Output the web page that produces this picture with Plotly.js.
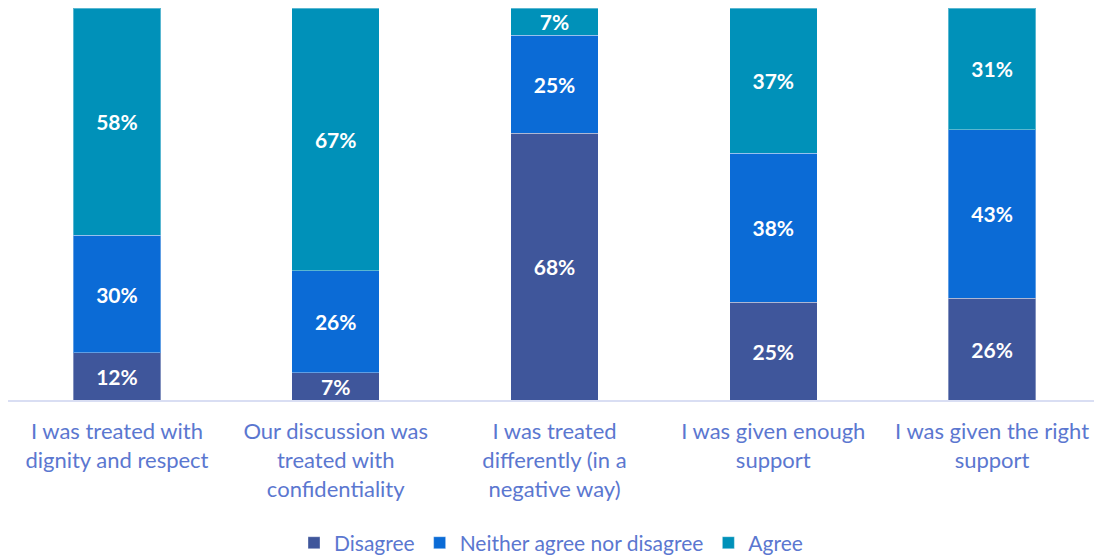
<!DOCTYPE html>
<html>
<head>
<meta charset="utf-8">
<script src="https://cdn.plot.ly/plotly-3.0.1.min.js"></script>
<style>html,body{margin:0;padding:0;background:#fff;}#chart{width:1094px;height:558px;}</style>
</head>
<body>
<div id="chart"></div>
<script>
const categories = [
  "I was treated with<br>dignity and respect",
  "Our discussion was<br>treated with<br>confidentiality",
  "I was treated<br>differently (in a<br>negative way)",
  "I was given enough<br>support",
  "I was given the right<br>support"
];
const disagree = [12, 7, 68, 25, 26];
const neither = [30, 26, 25, 38, 43];
const agree = [58, 67, 7, 37, 31];
const seriesNames = ["Disagree", "Neither agree nor disagree", "Agree"];
const colors = ["#3F569B", "#0B6BD6", "#0091B9"];

const FONT = "Lato, 'Open Sans', sans-serif";
const TEXTC = "#5B77D0";
const series = [disagree, neither, agree];
const x = categories.map((_, i) => i);
const traces = series.map((vals, k) => ({
  type: "bar",
  name: seriesNames[k],
  x: x,
  y: vals,
  marker: {color: colors[k], line: {color: "rgba(255,255,255,0.35)", width: 1}},
  texttemplate: "%{y}%",
  textposition: "inside",
  insidetextanchor: "middle",
  constraintext: "none",
  textfont: {family: FONT, size: 21, color: "#ffffff", weight: "bold"},
  hoverinfo: "none"
}));

const layout = {
  width: 1094, height: 558,
  margin: {l: 8, r: 0, t: 8, b: 158, autoexpand: false},
  barmode: "stack",
  bargap: 0.6,
  paper_bgcolor: "#fff",
  plot_bgcolor: "#fff",
  showlegend: true,
  legend: {orientation: "h", x: 0.5, xanchor: "center", y: -0.365, yanchor: "middle",
           font: {family: FONT, size: 21, color: TEXTC}, itemwidth: 30, traceorder: "normal"},
  xaxis: {
    tickmode: "array", tickvals: x, ticktext: categories,
    range: [-0.498, 4.466],
    showline: true, linecolor: "#D9DEF3", linewidth: 2,
    showgrid: false, zeroline: false, ticks: "",
    tickfont: {family: FONT, size: 22, color: TEXTC},
    ticklabelstandoff: 11,
    automargin: false
  },
  yaxis: {range: [0, 100], visible: false, showgrid: false, zeroline: false}
};

Plotly.newPlot("chart", traces, layout, {displayModeBar: false, staticPlot: true});
</script>
</body>
</html>
